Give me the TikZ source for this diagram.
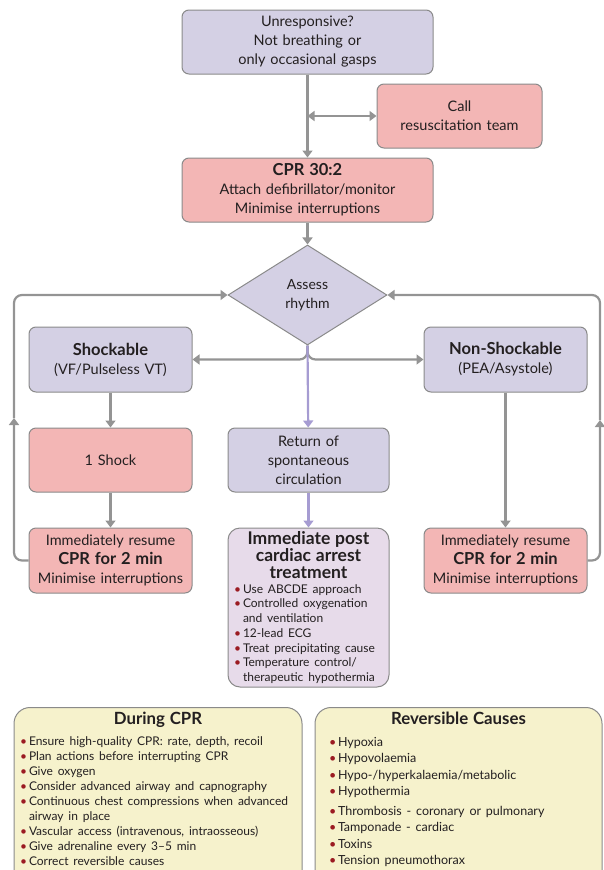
\documentclass[tikz,border=0pt]{standalone}
\usepackage{fontspec}
\setmainfont{Lato}
\usepackage{xcolor}
\usetikzlibrary{arrows.meta,shapes.geometric}
\definecolor{assesslav}{HTML}{D4D0E4}
\definecolor{actpink}{HTML}{F3B6B5}
\definecolor{postlav}{HTML}{E7DBEA}
\definecolor{noteyellow}{HTML}{F6F2CC}
\definecolor{boxgray}{HTML}{8A8A8A}
\definecolor{arrowgray}{HTML}{949494}
\definecolor{roscpurple}{HTML}{A69CD2}
\definecolor{bulletred}{HTML}{9B1B22}
\definecolor{textblack}{HTML}{231F20}
\newcommand{\itm}[1]{\par\noindent\hangindent=9pt\hangafter=1%
  \makebox[9pt][l]{\textcolor{bulletred}{\textbullet}}#1}
\newcommand{\hd}[1]{{\fontsize{16.5}{19}\selectfont\bfseries #1}}

\begin{document}
\begin{tikzpicture}[
  x=1pt,y=-1pt,
  box/.style={draw=boxgray,line width=1pt,rounded corners=7pt,inner sep=0pt,
    align=center,text=textblack,font=\fontsize{14.5}{19}\selectfont},
  assessbox/.style={box,fill=assesslav},
  actbox/.style={box,fill=actpink},
  postbox/.style={box,fill=postlav,rounded corners=12pt,inner xsep=6pt},
  notebox/.style={box,fill=noteyellow,rounded corners=16pt,inner ysep=5pt},
  rhythm/.style={diamond,draw=boxgray,line width=1pt,fill=assesslav,
    inner sep=0pt,minimum width=159pt,minimum height=100pt,align=center,
    text=textblack,font=\fontsize{14}{19}\selectfont},
  flow/.style={-{Triangle[length=7pt,width=10pt]},line width=2.2pt,draw=arrowgray},
  both/.style={flow,{Triangle[length=7pt,width=10pt]}-{Triangle[length=7pt,width=10pt]}},
  roscflow/.style={flow,draw=roscpurple}
]
\useasboundingbox (0,0) rectangle (604,870);
\clip (0,0) rectangle (604,870);

% start of the algorithm
\node[assessbox,text width=251pt,minimum height=64pt] (unresp) at (307.5,42)
  {Unresponsive?\\Not breathing or\\only occasional gasps};
\node[actbox,text width=165pt,minimum height=64pt] (call) at (459.5,116)
  {Call\\resuscitation team};
\node[actbox,text width=251pt,minimum height=64pt] (cpr) at (307.5,190)
  {\hd{CPR 30:2}\\Attach defibrillator/monitor\\Minimise interruptions};
\coordinate (calljoin) at (307.5,116);
\draw[flow] (unresp) -- (cpr);
\draw[both] (calljoin) -- (call.west);

% rhythm check and the three branches
\node[rhythm] (assess) at (307.5,295) {Assess\\rhythm};
\draw[flow] (cpr) -- (assess);
\node[assessbox,text width=163pt,minimum height=65pt] (shock) at (110.5,359.5)
  {\hd{Shockable}\\(VF/Pulseless VT)};
\node[assessbox,text width=163pt,minimum height=65pt] (nonshock) at (505.5,359.5)
  {\hd{Non-Shockable}\\(PEA/Asystole)};
\draw[flow,rounded corners=8pt] (assess.south) |- (shock.east);
\draw[flow,rounded corners=8pt] (assess.south) |- (nonshock.west);

\node[actbox,text width=163pt,minimum height=64pt] (oneshock) at (110.5,460)
  {1 Shock};
\node[assessbox,text width=161pt,minimum height=64pt] (rosc) at (308.5,460)
  {Return of\\spontaneous\\circulation};
\draw[flow] (shock) -- (oneshock);
\draw[roscflow] (assess.south) -- (rosc);

\node[actbox,text width=163pt,minimum height=65pt] (resumeL) at (110.5,560.5)
  {Immediately resume\\\hd{CPR for 2 min}\\Minimise interruptions};
\node[actbox,text width=163pt,minimum height=65pt] (resumeR) at (505.5,560.5)
  {Immediately resume\\\hd{CPR for 2 min}\\Minimise interruptions};
\draw[flow] (oneshock) -- (resumeL);
\draw[flow] (nonshock) -- (resumeR);

\node[postbox,text width=149pt,minimum height=159pt] (postca) at (308.5,607.5)
  {{\fontsize{17.5}{17}\selectfont\bfseries Immediate post\\cardiac arrest\\treatment\par}
   \fontsize{12}{14.7}\selectfont\raggedright
   \itm{Use ABCDE approach}
   \itm{Controlled oxygenation\newline and ventilation}
   \itm{12-lead ECG}
   \itm{Treat precipitating cause}
   \itm{Temperature control/\newline therapeutic hypothermia}\par};
\draw[roscflow] (rosc) -- (postca);

% loops back to the rhythm check
\coordinate (loopL) at (14,418);
\coordinate (loopR) at (600,420);
\draw[flow,rounded corners=8pt] (resumeL.west) -| (loopL);
\draw[flow,rounded corners=8pt] (loopL) |- (assess.west);
\draw[flow,rounded corners=8pt] (resumeR.east) -| (loopR);
\draw[flow,rounded corners=8pt] (loopR) |- (assess.east);

% notes at the foot
\node[notebox,anchor=north,text width=276pt,inner xsep=6pt] (during) at (158,707)
  {{\fontsize{16.8}{17}\selectfont\bfseries During CPR\par}\vspace{6pt}
   \fontsize{12}{15}\selectfont\raggedright
   \itm{Ensure high-quality CPR: rate, depth, recoil}
   \itm{Plan actions before interrupting CPR}
   \itm{Give oxygen}
   \itm{Consider advanced airway and capnography}
   \itm{Continuous chest compressions when advanced\newline airway in place}
   \itm{Vascular access (intravenous, intraosseous)}
   \itm{Give adrenaline every 3--5 min}
   \itm{Correct reversible causes}\par\vspace{20pt}};
\node[notebox,anchor=north,text width=259pt,inner xsep=14pt] (causes) at (458.5,707)
  {{\fontsize{16.8}{17}\selectfont\bfseries Reversible Causes\par}\vspace{5pt}
   \fontsize{12.5}{16.4}\selectfont\raggedright
   \itm{Hypoxia}
   \itm{Hypovolaemia}
   \itm{Hypo-/hyperkalaemia/metabolic}
   \itm{Hypothermia}\par\vspace{3.5pt}
   \itm{Thrombosis - coronary or pulmonary}
   \itm{Tamponade - cardiac}
   \itm{Toxins}
   \itm{Tension pneumothorax}\par\vspace{20pt}};
\end{tikzpicture}
\end{document}
